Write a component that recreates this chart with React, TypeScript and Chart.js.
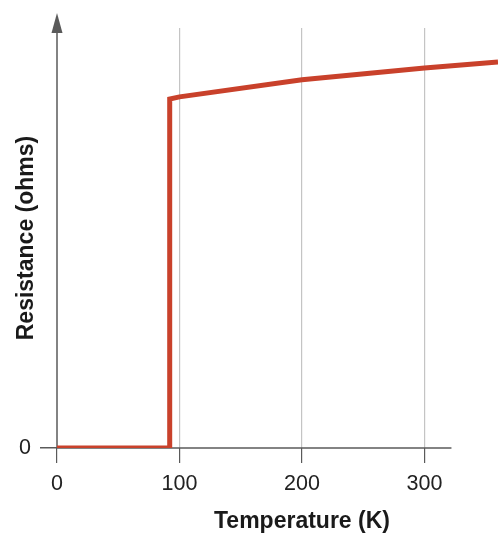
import React, { useEffect, useRef } from "react";
import { Chart, registerables } from "chart.js";

Chart.register(...registerables);

const temperatures = [0, 92, 92, 100, 200, 300, 360];
const resistance = [0, 0, 83.1, 83.6, 87.7, 90.5, 91.9];
const xTickValues = [0, 100, 200, 300];
const yTickValues = [0];
const xTitle = "Temperature (K)";
const yTitle = "Resistance (ohms)";

const AXIS_COLOR = "#5a5a5a";
const FONT = "'Liberation Sans', Arial, Helvetica, sans-serif";

const axesPlugin = {
  id: "axesPlugin",
  beforeDatasetsDraw(chart: any) {
    const { ctx, chartArea, scales } = chart;
    const xs = scales.x;
    const ys = scales.y;
    const x0 = xs.getPixelForValue(0);
    const y0 = ys.getPixelForValue(0);
    ctx.save();
    ctx.strokeStyle = AXIS_COLOR;
    ctx.fillStyle = AXIS_COLOR;
    ctx.lineWidth = 1.5;
    // x axis line
    ctx.beginPath();
    ctx.moveTo(x0, y0);
    ctx.lineTo(xs.getPixelForValue(322), y0);
    ctx.stroke();
    // y axis line with arrow
    const tipY = chartArea.top - 15;
    ctx.beginPath();
    ctx.moveTo(x0, y0);
    ctx.lineTo(x0, tipY + 12);
    ctx.stroke();
    ctx.beginPath();
    ctx.moveTo(x0, tipY);
    ctx.lineTo(x0 - 5.5, tipY + 20);
    ctx.lineTo(x0 + 5.5, tipY + 20);
    ctx.closePath();
    ctx.fill();
    ctx.restore();
  },
  afterDraw(chart: any) {
    const { ctx, scales } = chart;
    const xs = scales.x;
    ctx.save();
    ctx.fillStyle = "#1a1a1a";
    ctx.font = `bold 23px ${FONT}`;
    ctx.textAlign = "center";
    ctx.textBaseline = "middle";
    ctx.fillText(xTitle, xs.getPixelForValue(200), 522);
    ctx.restore();
  },
};

export default function App() {
  const canvasRef = useRef<HTMLCanvasElement | null>(null);

  useEffect(() => {
    if (!canvasRef.current) return;
    const chart = new Chart(canvasRef.current, {
      type: "line",
      data: {
        labels: temperatures,
        datasets: [
          {
            data: temperatures.map((t, i) => ({ x: t, y: resistance[i] })),
            borderColor: "#c9412b",
            borderWidth: 5,
            pointRadius: 0,
            tension: 0,
            fill: false,
            borderJoinStyle: "miter",
          },
        ],
      },
      options: {
        animation: false,
        responsive: false,
        layout: { padding: { top: 28, right: 0, left: 0, bottom: 0 } },
        plugins: {
          legend: { display: false },
          tooltip: { enabled: false },
        },
        scales: {
          x: {
            type: "linear",
            min: 0,
            max: 360,
            afterBuildTicks: (s: any) => {
              s.ticks = xTickValues.map((v) => ({ value: v }));
            },
            afterFit: (s: any) => {
              s.height = 88;
            },
            border: { display: false },
            grid: {
              color: (c: any) => (c.tick && c.tick.value === 0 ? "rgba(0,0,0,0)" : "#c4c4c4"),
              tickColor: AXIS_COLOR,
              tickLength: 15,
              lineWidth: 1.2,
            },
            ticks: {
              color: "#222",
              font: { family: FONT, size: 21.5 },
              padding: 8,
              maxRotation: 0,
            },
          },
          y: {
            type: "linear",
            min: 0,
            max: 100,
            afterBuildTicks: (s: any) => {
              s.ticks = yTickValues.map((v) => ({ value: v }));
            },
            afterFit: (s: any) => {
              s.width = 57;
            },
            border: { display: false },
            grid: {
              drawOnChartArea: false,
              tickColor: AXIS_COLOR,
              tickLength: 17,
              lineWidth: 1.5,
            },
            ticks: {
              color: "#222",
              font: { family: FONT, size: 21.5 },
              padding: 9,
            },
            title: {
              display: true,
              text: yTitle,
              color: "#1a1a1a",
              font: { family: FONT, size: 23, weight: "bold" },
              padding: { top: 13, bottom: 0 },
            },
          },
        },
      },
      plugins: [axesPlugin],
    } as any);
    return () => chart.destroy();
  }, []);

  return (
    <div style={{ position: "fixed", left: 0, top: 0, width: 498, height: 536, background: "#fff" }}>
      <canvas ref={canvasRef} width={498} height={536} style={{ display: "block" }} />
    </div>
  );
}
